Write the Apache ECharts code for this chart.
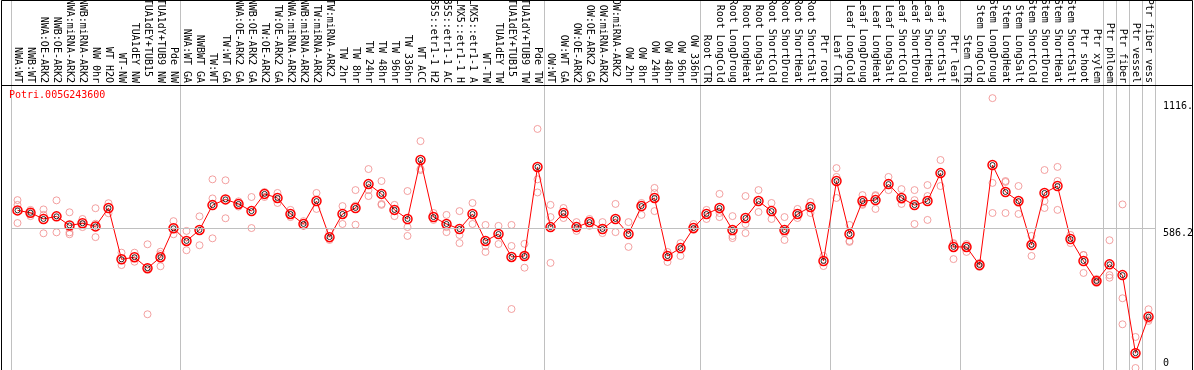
<!DOCTYPE html>
<html><head><meta charset="utf-8">
<script src="https://cdn.jsdelivr.net/npm/echarts@6/dist/echarts.min.js"></script>
<style>html,body{margin:0;padding:0;background:#fff}#c{width:1194px;height:370px}</style>
</head><body><div id="c"></div>
<script>
const geneId = 'Potri.005G243600';
const categories = [
  'NWA:WT','NWB:WT','NWA:OE-ARK2','NWB:OE-ARK2','NWA:miRNA-ARK2','NWB:miRNA-ARK2','NW 0hr','WT H2O','WT-NW','TUA1dEY NW','TUA1dEY+TUB15 NW','TUA1dY+TUB9 NW','Pde NW',
  'NWA:WT GA','NWBWT GA','TW:WT','TW:WT GA','NWA:OE-ARK2 GA','NWB:OE-ARK2 GA','TW:OE-ARK2','TW:OE-ARK2 GA','NWA:miRNA-ARK2 GA','NWB:miRNA-ARK2 GA','TW:miRNA-ARK2','TW:miRNA-ARK2 GA',
  'TW 2hr','TW 8hr','TW 24hr','TW 48hr','TW 96hr','TW 336hr','WT ACC','35S::etr1-1 H2O','35S::etr1-1 ACC','LMX5::etr1-1 H2O','LMX5::etr1-1 ACC','WT-TW','TUA1dEY TW','TUA1dEY+TUB15 TW','TUA1dY+TUB9 TW','Pde TW',
  'OW:WT','OW:WT GA','OW:OE-ARK2','OW:OE-ARK2 GA','OW:miRNA-ARK2','OW:miRNA-ARK2 GA','OW 2hr','OW 8hr','OW 24hr','OW 48hr','OW 96hr','OW 336hr',
  'Root CTR','Root LongCold','Root LongDrought','Root LongHeat','Root LongSalt','Root ShortCold','Root ShortDrought','Root ShortHeat','Root ShortSalt','Ptr root',
  'Leaf CTR','Leaf LongCold','Leaf LongDrought','Leaf LongHeat','Leaf LongSalt','Leaf ShortCold','Leaf ShortDrought','Leaf ShortHeat','Leaf ShortSalt','Ptr leaf',
  'Stem CTR','Stem LongCold','Stem LongDrought','Stem LongHeat','Stem LongSalt','Stem ShortCold','Stem ShortDrought','Stem ShortHeat','Stem ShortSalt','Ptr shoot','Ptr xylem',
  'Ptr phloem','Ptr fiber','Ptr vessel','Ptr fiber vessel'
];
const groupStarts = [0, 13, 41, 53, 63, 73, 84, 85, 86, 87];
const meanValues = [
  660,650,624,635,597,606,593,670,455,464,418,464,585,
  532,578,682,706,687,657,729,712,645,603,699,548,645,670,770,729,662,624,871,632,603,582,645,532,561,465,469,842,
  590,649,590,611,582,624,561,678,712,469,502,586,
  645,670,578,628,699,657,578,645,674,448,
  783,561,699,703,770,712,682,699,816,507,
  507,431,850,737,699,515,733,762,540,448,364,
  434,389,62,215
];
const replicateValues = [
  [703,683,607],[662,649,636],[664,641,564],[702,568],[652,568,560],[624,603,590],[669,604,548],[690,648],[483,431],[483,445],[518,420,225],[487,477,426],[615,560],
  [574,493],[635,514],[790,710,543],[786,627],[698,676],[716,586],[737,716],[733,691],[662,632],[615,595],[733,666],[569,536],[678,603],[745,680,600],[833,745,720],[783,687,683],[683,636],[741,590,553],[950,829,834],[649,620],[641,590,569],[657,557,523],[691,603],[599,511,486],[595,519],[599,511,247],[520,470,420],[1001,790,735],
  [683,632,440],[670,628],[611,574],[624,595],[611,565],[687,569],[611,507],[691,641],[754,733,657],[486,444],[523,469],[603,578],
  [662,624],[729,649,632],[636,553,544],[720,603,565],[745,653],[691,624],[632,565,536],[666,628],[695,649],[469,427],
  [837,800,712],[599,532,528],[724,683,687],[720,666,724],[800,745],[749,687,703],[703,603,745],[766,720,620],[871,762],[523,456,519],
  [511,486,519],[440,423],[1130,775,649],[779,649,783],[762,645,691],[553,469,523],[829,670,699],[842,662,783],[557,523],[473,398,473],[364,356,373],
  [535,389,378],[685,292,183],[130,0],[246,204,197]
];
const yTickValues = [0, 586.2, 1116];
const yTickLabels = ['0', '586.2', '1116.'];
const referenceValue = 586.2;

const repPoints = [];
replicateValues.forEach((arr, i) => arr.forEach(v => repPoints.push([i, v])));
const meanPoints = meanValues.map((v, i) => [i, v]);
const labelFor = v => yTickLabels[yTickValues.indexOf(v)];
const font = 'DejaVu Sans Mono';
const yMin = -8.37, yMax = 1540.9;

const chart = echarts.init(document.getElementById('c'), null, {renderer: 'canvas'});
chart.setOption({
  animation: false,
  backgroundColor: '#fff',
  title: {
    text: geneId, left: 9, top: 90, padding: 0,
    textStyle: {color: '#ff0000', fontFamily: font, fontSize: 10, fontWeight: 'normal'}
  },
  grid: {left: 11, right: 39, top: 0, bottom: 0, containLabel: false, outerBoundsMode: 'none'},
  xAxis: {
    type: 'category', data: categories, position: 'top', offset: -85, boundaryGap: true,
    axisLine: {show: true, onZero: false, lineStyle: {color: '#000', width: 1}},
    axisTick: {show: false},
    axisLabel: {interval: 0, rotate: 90, margin: 2, fontFamily: font, fontSize: 10, color: '#000',
      width: 90, overflow: 'truncate', ellipsis: ''},
    splitLine: {show: true, interval: (idx) => groupStarts.indexOf(idx) >= 0, lineStyle: {color: '#c0c0c0', width: 1}}
  },
  yAxis: [
    {type: 'value', position: 'right', min: yMin, max: yMax,
     axisLine: {show: false}, axisTick: {show: false}, splitLine: {show: false},
     axisLabel: {customValues: [586.2, 1116], formatter: labelFor, margin: 8, verticalAlign: 'top',
       fontFamily: font, fontSize: 10, color: '#000'}},
    {type: 'value', position: 'right', min: yMin, max: yMax,
     axisLine: {show: false}, axisTick: {show: false}, splitLine: {show: false},
     axisLabel: {customValues: [0], formatter: labelFor, margin: 8, verticalAlign: 'bottom',
       fontFamily: font, fontSize: 10, color: '#000'}}
  ],
  series: [
    {type: 'scatter', data: repPoints, symbol: 'circle', symbolSize: 7, z: 2,
     itemStyle: {color: 'rgba(0,0,0,0)', borderColor: '#f08a8a', borderWidth: 1}},
    {type: 'line', data: meanValues, symbol: 'circle', symbolSize: 9, z: 3,
     lineStyle: {color: '#ff0000', width: 1},
     itemStyle: {color: 'rgba(0,0,0,0)', borderColor: '#ff0000', borderWidth: 1.5},
     markLine: {silent: true, symbol: 'none', label: {show: false},
       lineStyle: {color: '#c0c0c0', type: 'solid', width: 1}, data: [{yAxis: referenceValue}]}},
    {type: 'scatter', data: meanPoints, symbol: 'circle', symbolSize: 5, z: 4,
     itemStyle: {color: 'rgba(0,0,0,0)', borderColor: '#000', borderWidth: 1}}
  ],
  graphic: [
    {type: 'rect', shape: {x: 1.5, y: 0.5, width: 1191, height: 400}, style: {fill: 'none', stroke: '#000', lineWidth: 1}, z: 100},
    {type: 'line', shape: {x1: 1, y1: 85.5, x2: 1193, y2: 85.5}, style: {stroke: '#000', lineWidth: 1}, z: 100}
  ]
});
</script></body></html>
